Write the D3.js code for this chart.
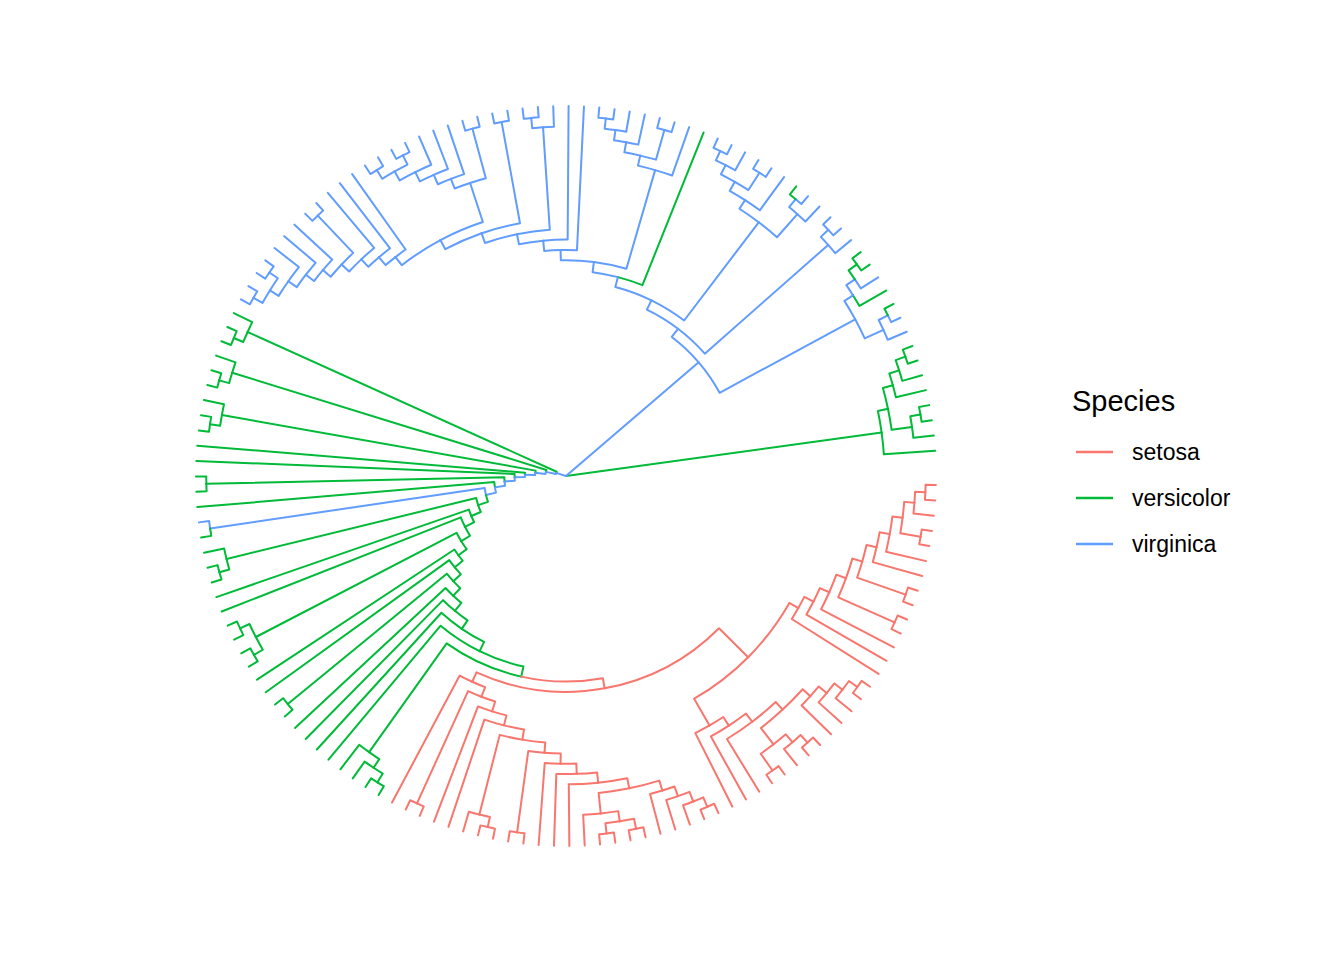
<!DOCTYPE html>
<html>
<head>
<meta charset="utf-8">
<script src="https://cdn.jsdelivr.net/npm/d3@7"></script>
<style>
  html, body { margin: 0; padding: 0; background: #ffffff; }
  svg { display: block; }
  text { font-family: "Liberation Sans", Arial, Helvetica, sans-serif; fill: #000; }
</style>
</head>
<body>
<svg id="chart" width="1344" height="960"></svg>
<script>
// ---------------- data ----------------
const speciesNames = ["setosa", "versicolor", "virginica"];
const speciesColors = ["#F8766D", "#00BA38", "#619CFF"];

// species of each of the 150 tips, in circular order (0 = setosa, 1 = versicolor, 2 = virginica)
const tipSpecies = (
  "11111111" +                                   // tips 0-7
  "2211211" +                                    // tips 8-14
  "22222" + "1" + "222222" + "1" +               // tips 15-27
  "22222222222222222222222222222222222" +        // tips 28-62
  "11111111111111" + "2" +                       // tips 63-77
  "1111111111111111111111" +                     // tips 78-99
  "00000000000000000000000000000000000000000000000000" // tips 100-149
).split("").map(Number);

// tree topology, nested arrays of tip indices
const rightClade = [0, [[1, [2, 3]], [4, [5, [6, 7]]]]];

const vR  = [[8, [9, 10]], [11, [12, [13, 14]]]];
const v15 = [15, [16, 17]];
const vY  = [[18, [19, 20]], [21, [[22, 23], [24, [25, 26]]]]];
const vZ  = [28, [[29, 30], [31, [32, [33, 34]]]]];
const v37 = [37, [38, 39]];
const vW  = [[42, 43], [44, [45, [46, [[47, 48], [49, 50]]]]]];
const v51 = [51, [52, [53, [[54, 55], [56, [57, [58, [[59, 60], [61, 62]]]]]]]]];
const upperClade = [vR, [v15, [vY, [27, [vZ, [35, [36, [v37, [[40, 41], [vW, v51]]]]]]]]]];

const g63 = [63, [64, 65]];
const g66 = [66, [67, 68]];
const g69 = [69, [70, 71]];
const g74 = [74, 75];
const g77 = [77, 78];
const g79 = [79, [80, 81]];
const g84 = [[84, 85], [86, 87]];
const g90 = [90, 91];
const g96 = [96, [97, [98, 99]]];

const s105 = [105, [106, 107]];
const s113 = [113, [[114, 115], [116, 117]]];
const s118 = [118, [119, [120, [121, 122]]]];
const setosaLeft = [100, [[101, 102], [103, [104, [s105, [[108, 109], [110, [111, [112, [s113, s118]]]]]]]]]];
const s126 = [[126, 127], [128, [129, 130]]];
const s131 = [131, [132, [133, [134, 135]]]];
const setosaMid = [123, [124, [125, [s126, s131]]]];
const setosaRight = [136, [137, [138, [[139, 140], [[141, 142], [143, [144, [[145, 146], [147, [148, 149]]]]]]]]]];
const setosaClade = [setosaLeft, [setosaMid, setosaRight]];

const leftChain = [g63, [g66, [g69, [72, [73, [g74, [76, [g77, [g79, [82, [83, [g84, [88, [89, [g90, [92, [93, [94, [95, [g96, setosaClade]]]]]]]]]]]]]]]]]]]];

const treeData = [rightClade, upperClade, leftChain];

// ---------------- layout ----------------
const cx = 566, cy = 476, outerR = 370;
const svg = d3.select("#chart");
svg.append("rect").attr("width", 1344).attr("height", 960).attr("fill", "#ffffff");

const root = d3.hierarchy(treeData, d => Array.isArray(d) ? d : null);
const nTips = tipSpecies.length;

const angleScale = d3.scaleLinear().domain([0, nTips - 1]).range([3.9, 358.6]); // degrees, counter-clockwise from 3 o'clock
const radiusScale = d3.scaleLinear().domain([0, root.height]).range([0, outerR]);

root.eachAfter(n => {
  if (!n.children) n.theta = angleScale(n.data) * Math.PI / 180;
  else n.theta = d3.mean(n.children, c => c.theta);
  n.r = radiusScale(root.height - n.height);
});

// group colouring of branches (path from each tip up to its group's common ancestor)
function lca(a, b) {
  const anc = new Set(a.ancestors());
  for (const x of b.ancestors()) if (anc.has(x)) return x;
  return root;
}
const leaves = root.leaves();
speciesNames.forEach((name, g) => {
  const tips = leaves.filter(l => tipSpecies[l.data] === g);
  const m = tips.reduce((acc, t) => acc ? lca(acc, t) : t, null);
  tips.forEach(t => {
    let n = t;
    while (n) { n.group = g; if (n === m) break; n = n.parent; }
  });
});

const px = (r, t) => cx + r * Math.cos(t);
const py = (r, t) => cy - r * Math.sin(t);

const gTree = svg.append("g");
root.descendants().filter(n => n.parent).forEach(n => {
  const p = n.parent;
  const path = d3.path();
  path.moveTo(px(p.r, p.theta), py(p.r, p.theta));
  if (p.r > 0) path.arc(cx, cy, p.r, -p.theta, -n.theta, n.theta > p.theta);
  else path.lineTo(px(0, n.theta), py(0, n.theta));
  path.lineTo(px(n.r, n.theta), py(n.r, n.theta));
  gTree.append("path")
    .attr("d", path.toString())
    .attr("fill", "none")
    .attr("stroke", speciesColors[n.group])
    .attr("stroke-width", 2)
    .attr("stroke-linecap", "round")
    .attr("stroke-linejoin", "round");
});

// ---------------- legend ----------------
const legend = svg.append("g");
legend.append("text").attr("x", 1072).attr("y", 411).attr("font-size", 29).text("Species");
const keyY = d3.scalePoint().domain(speciesNames).range([452, 544]);
speciesNames.forEach((s, i) => {
  legend.append("line")
    .attr("x1", 1076).attr("x2", 1113)
    .attr("y1", keyY(s)).attr("y2", keyY(s))
    .attr("stroke", speciesColors[i]).attr("stroke-width", 2.4);
  legend.append("text").attr("x", 1132).attr("y", keyY(s) + 8)
    .attr("font-size", 23).text(s);
});
</script>
</body>
</html>
